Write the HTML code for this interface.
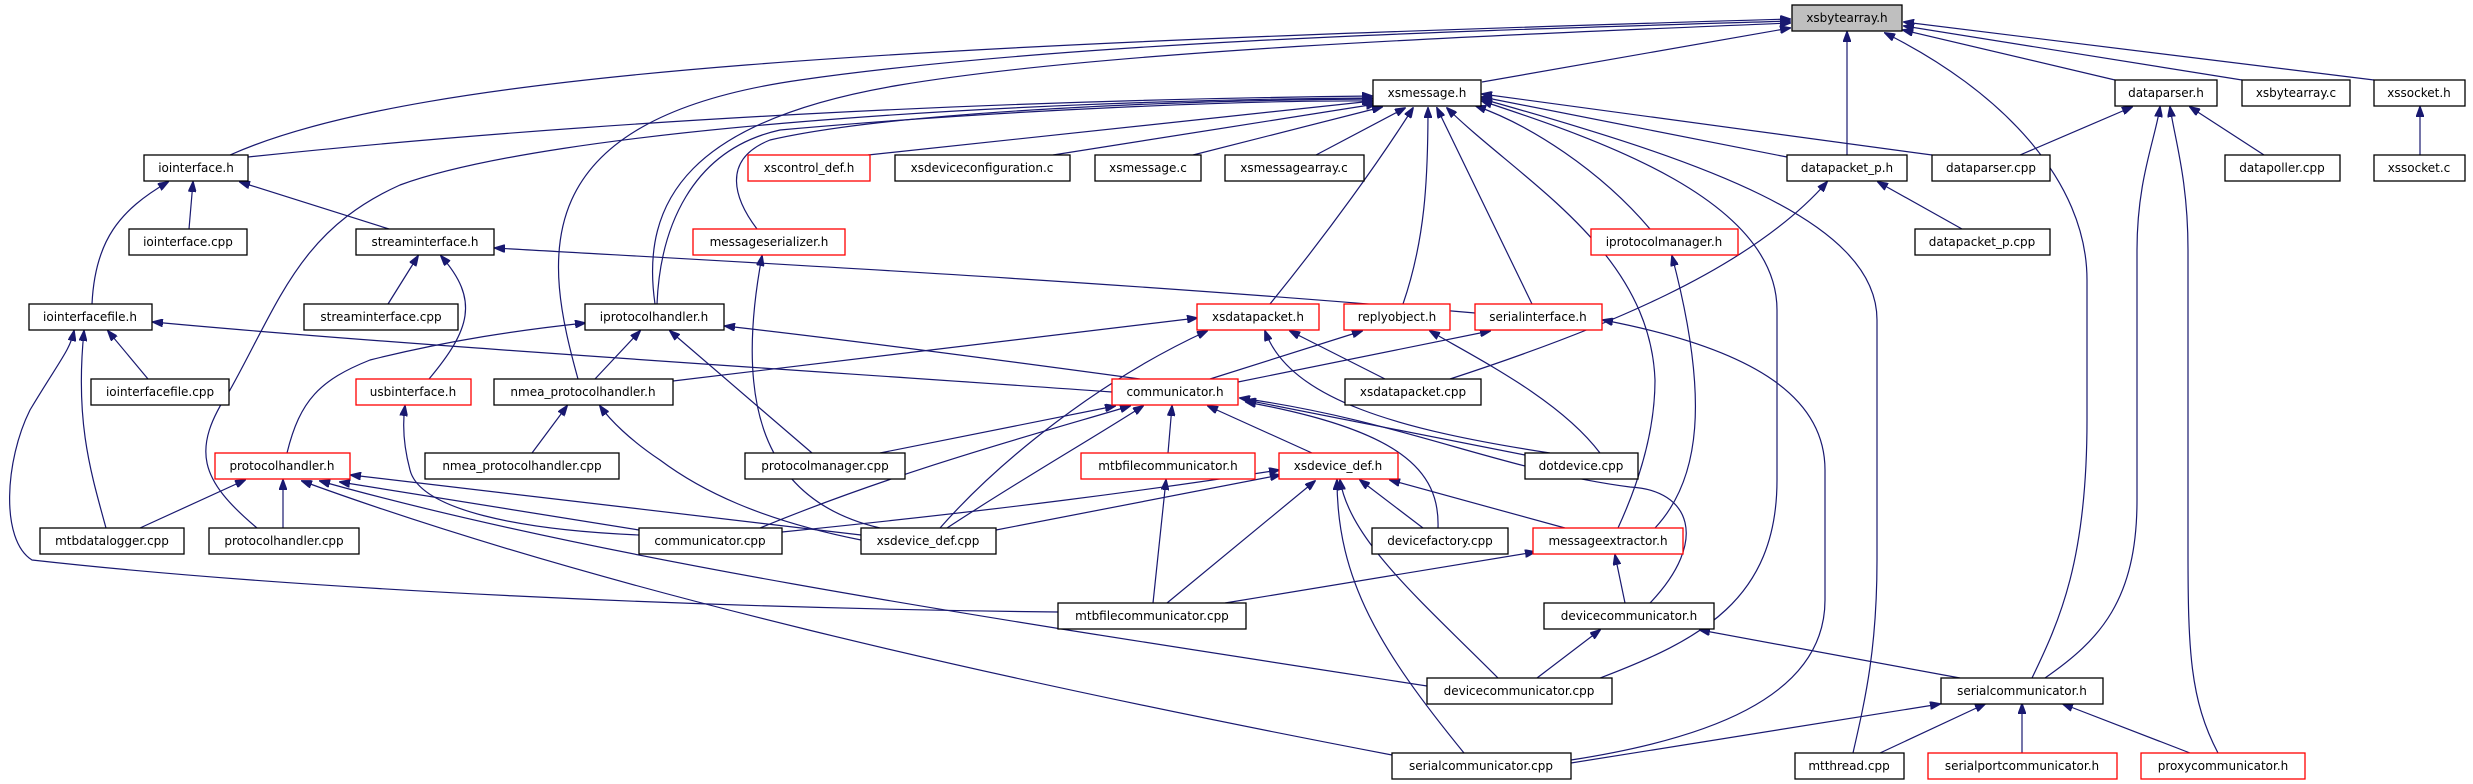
<!DOCTYPE html>
<html><head><meta charset="utf-8">
<style>
html,body{margin:0;padding:0;background:#fff;}
svg{display:block;}
text{font-family:"DejaVu Sans","Liberation Sans",sans-serif;font-size:12px;fill:#000;}
.e{fill:none;stroke:#191970;stroke-width:1.2;marker-end:url(#ah);}
.n{fill:#fff;stroke:#000;stroke-width:1.3;}
.r{fill:#fff;stroke:#ff0000;stroke-width:1.3;}
</style></head>
<body>
<svg width="2473" height="784" viewBox="0 0 2473 784" xmlns="http://www.w3.org/2000/svg">
<defs>
<marker id="ah" markerWidth="11" markerHeight="8" refX="10" refY="4" orient="auto" markerUnits="userSpaceOnUse">
<path d="M0,0 L11,4 L0,8 z" fill="#191970" stroke="#191970"/>
</marker>
</defs>
<!-- edges to xsbytearray.h -->
<path class="e" d="M1482,82 L1790,28"/>
<path class="e" d="M230,155 C420,70 900,45 1790,19"/>
<path class="e" d="M578,379 C545,260 520,120 800,80 S1500,30 1790,21"/>
<path class="e" d="M655,304 C640,200 690,120 900,85 S1500,35 1790,23"/>
<path class="e" d="M1847,155 L1847,32"/>
<path class="e" d="M2115,80 L1903,30"/>
<path class="e" d="M2242,80 L1904,26"/>
<path class="e" d="M2374,80 L1904,22"/>
<path class="e" d="M2032,678 C2060,620 2087,560 2087,420 L2087,280 C2087,180 2000,90 1885,33"/>
<!-- xsmessage.h -->
<path class="e" d="M248,157 C600,120 1000,100 1372,96"/>
<path class="e" d="M257,528 C200,480 190,450 230,390 C280,300 300,230 400,185 C550,130 1000,100 1372,98"/>
<path class="e" d="M757,229 C735,200 720,160 770,140 C900,110 1200,100 1372,99"/>
<path class="e" d="M657,304 C660,230 690,150 780,130 C1000,110 1250,100 1372,101"/>
<path class="e" d="M868,155 L1373,101"/>
<path class="e" d="M1053,155 L1376,104"/>
<path class="e" d="M1193,155 L1382,107"/>
<path class="e" d="M1316,155 L1405,108"/>
<path class="e" d="M1270,304 C1330,230 1380,160 1413,108"/>
<path class="e" d="M1403,304 C1425,240 1428,180 1428,108"/>
<path class="e" d="M1532,304 L1437,108"/>
<path class="e" d="M1618,528 C1640,480 1655,430 1655,380 C1650,250 1520,180 1447,108"/>
<path class="e" d="M1650,229 C1600,170 1530,125 1476,106"/>
<path class="e" d="M1600,678 C1700,640 1777,600 1777,480 L1777,310 C1777,200 1600,140 1482,101"/>
<path class="e" d="M1853,753 C1865,700 1877,650 1877,560 L1877,320 C1877,220 1700,160 1482,99"/>
<path class="e" d="M1787,157 L1482,97"/>
<path class="e" d="M1932,155 L1482,94"/>
<!-- iointerface.h -->
<path class="e" d="M189,229 L193,182"/>
<path class="e" d="M389,229 L240,182"/>
<path class="e" d="M92,304 C95,240 120,210 168,182"/>
<!-- streaminterface.h -->
<path class="e" d="M388,304 L418,256"/>
<path class="e" d="M429,379 C470,330 480,300 441,256"/>
<path class="e" d="M1475,313 C1100,280 700,260 495,248"/>
<!-- iointerfacefile.h -->
<path class="e" d="M148,379 L108,331"/>
<path class="e" d="M106,528 C90,470 75,420 84,331"/>
<path class="e" d="M1058,612 C700,608 300,590 32,560 C0,540 5,460 30,410 C60,360 70,350 74,331"/>
<path class="e" d="M1112,392 C800,370 400,345 153,322"/>
<!-- iprotocolhandler.h -->
<path class="e" d="M287,453 C300,400 320,380 370,360 C450,340 520,330 585,323"/>
<path class="e" d="M595,379 L640,331"/>
<path class="e" d="M812,453 L670,331"/>
<path class="e" d="M1140,379 C1000,360 850,340 725,326"/>
<!-- messageserializer.h -->
<path class="e" d="M880,528 C760,500 735,400 762,256"/>
<!-- xsdatapacket.h -->
<path class="e" d="M673,381 L1197,318"/>
<path class="e" d="M940,528 C1000,460 1100,380 1207,331"/>
<path class="e" d="M1385,379 L1290,331"/>
<path class="e" d="M1550,453 C1400,430 1290,400 1265,331"/>
<!-- replyobject.h -->
<path class="e" d="M1210,379 L1362,331"/>
<path class="e" d="M1600,453 C1560,400 1480,360 1430,331"/>
<!-- serialinterface.h -->
<path class="e" d="M1238,382 L1490,331"/>
<path class="e" d="M1571,760 C1700,740 1825,700 1825,600 L1825,470 C1825,400 1760,350 1603,320"/>
<!-- datapacket_p.h -->
<path class="e" d="M1962,229 L1878,182"/>
<path class="e" d="M1450,379 C1600,330 1750,270 1827,182"/>
<!-- dataparser.h -->
<path class="e" d="M2020,155 L2132,107"/>
<path class="e" d="M2264,155 L2190,107"/>
<path class="e" d="M2045,678 C2100,640 2137,600 2137,500 L2137,250 C2137,180 2155,140 2160,107"/>
<path class="e" d="M2218,753 C2190,700 2188,650 2188,550 L2188,250 C2188,180 2175,140 2170,107"/>
<!-- xssocket.h -->
<path class="e" d="M2420,155 L2420,107"/>
<!-- usbinterface.h -->
<path class="e" d="M639,535 C520,530 420,510 410,470 C402,440 403,420 405,406"/>
<!-- nmea_protocolhandler.h -->
<path class="e" d="M532,453 L567,406"/>
<path class="e" d="M861,540 C760,520 700,490 660,460 C630,440 610,420 600,406"/>
<!-- communicator.h -->
<path class="e" d="M880,453 L1115,406"/>
<path class="e" d="M760,528 C900,470 1050,430 1130,406"/>
<path class="e" d="M947,528 C1020,480 1090,440 1143,406"/>
<path class="e" d="M1168,453 L1172,406"/>
<path class="e" d="M1312,453 L1208,406"/>
<path class="e" d="M1438,528 C1440,470 1400,430 1246,402"/>
<path class="e" d="M1525,455 L1246,400"/>
<path class="e" d="M1650,603 C1710,540 1690,490 1630,487 C1500,470 1400,420 1240,398"/>
<!-- protocolhandler.h -->
<path class="e" d="M140,528 L245,480"/>
<path class="e" d="M283,528 L283,480"/>
<path class="e" d="M639,530 L340,482"/>
<path class="e" d="M861,535 L351,475"/>
<path class="e" d="M1427,686 C1000,620 600,560 320,481"/>
<path class="e" d="M1392,755 C1000,680 600,590 302,481"/>
<!-- mtbfilecommunicator.h -->
<path class="e" d="M1153,603 L1166,480"/>
<!-- xsdevice_def.h -->
<path class="e" d="M782,532 C1000,510 1150,490 1279,470"/>
<path class="e" d="M996,530 L1280,475"/>
<path class="e" d="M1167,603 L1315,481"/>
<path class="e" d="M1423,528 L1360,480"/>
<path class="e" d="M1565,528 L1390,480"/>
<path class="e" d="M1498,678 C1420,600 1350,540 1340,480"/>
<path class="e" d="M1464,753 C1380,650 1337,580 1337,480"/>
<!-- messageextractor.h -->
<path class="e" d="M1225,603 L1535,552"/>
<path class="e" d="M1625,603 L1615,555"/>
<path class="e" d="M1655,528 C1700,480 1710,400 1672,256"/>
<!-- devicecommunicator.h -->
<path class="e" d="M1537,678 L1600,630"/>
<path class="e" d="M1960,678 L1700,630"/>
<!-- serialcommunicator.h -->
<path class="e" d="M1571,763 L1940,704"/>
<path class="e" d="M1880,753 L1985,704"/>
<path class="e" d="M2022,753 L2022,704"/>
<path class="e" d="M2190,753 L2063,704"/>

<!-- nodes -->
<g text-anchor="middle">
<rect x="1792" y="5" width="110" height="26" fill="#bfbfbf" stroke="#000" stroke-width="1.3"/><text x="1847" y="22">xsbytearray.h</text>
<rect class="n" x="1373" y="80" width="108" height="26"/><text x="1427" y="97">xsmessage.h</text>
<rect class="n" x="2115" y="80" width="102" height="26"/><text x="2166" y="97">dataparser.h</text>
<rect class="n" x="2242" y="80" width="108" height="26"/><text x="2296" y="97">xsbytearray.c</text>
<rect class="n" x="2374" y="80" width="91" height="26"/><text x="2419" y="97">xssocket.h</text>

<rect class="n" x="144" y="155" width="104" height="26"/><text x="196" y="172">iointerface.h</text>
<rect class="r" x="748" y="155" width="122" height="26"/><text x="809" y="172">xscontrol_def.h</text>
<rect class="n" x="895" y="155" width="175" height="26"/><text x="982" y="172">xsdeviceconfiguration.c</text>
<rect class="n" x="1095" y="155" width="106" height="26"/><text x="1148" y="172">xsmessage.c</text>
<rect class="n" x="1225" y="155" width="139" height="26"/><text x="1294" y="172">xsmessagearray.c</text>
<rect class="n" x="1787" y="155" width="120" height="26"/><text x="1847" y="172">datapacket_p.h</text>
<rect class="n" x="1932" y="155" width="118" height="26"/><text x="1991" y="172">dataparser.cpp</text>
<rect class="n" x="2225" y="155" width="115" height="26"/><text x="2282" y="172">datapoller.cpp</text>
<rect class="n" x="2374" y="155" width="91" height="26"/><text x="2419" y="172">xssocket.c</text>

<rect class="n" x="129" y="229" width="118" height="26"/><text x="188" y="246">iointerface.cpp</text>
<rect class="n" x="356" y="229" width="138" height="26"/><text x="425" y="246">streaminterface.h</text>
<rect class="r" x="693" y="229" width="152" height="26"/><text x="769" y="246">messageserializer.h</text>
<rect class="r" x="1591" y="229" width="147" height="26"/><text x="1664" y="246">iprotocolmanager.h</text>
<rect class="n" x="1915" y="229" width="135" height="26"/><text x="1982" y="246">datapacket_p.cpp</text>

<rect class="n" x="29" y="304" width="123" height="26"/><text x="90" y="321">iointerfacefile.h</text>
<rect class="n" x="304" y="304" width="154" height="26"/><text x="381" y="321">streaminterface.cpp</text>
<rect class="n" x="585" y="304" width="139" height="26"/><text x="654" y="321">iprotocolhandler.h</text>
<rect class="r" x="1197" y="304" width="122" height="26"/><text x="1258" y="321">xsdatapacket.h</text>
<rect class="r" x="1344" y="304" width="106" height="26"/><text x="1397" y="321">replyobject.h</text>
<rect class="r" x="1475" y="304" width="127" height="26"/><text x="1538" y="321">serialinterface.h</text>

<rect class="n" x="91" y="379" width="138" height="26"/><text x="160" y="396">iointerfacefile.cpp</text>
<rect class="r" x="356" y="379" width="115" height="26"/><text x="413" y="396">usbinterface.h</text>
<rect class="n" x="494" y="379" width="179" height="26"/><text x="583" y="396">nmea_protocolhandler.h</text>
<rect class="r" x="1112" y="379" width="126" height="26"/><text x="1175" y="396">communicator.h</text>
<rect class="n" x="1345" y="379" width="136" height="26"/><text x="1413" y="396">xsdatapacket.cpp</text>

<rect class="r" x="215" y="453" width="135" height="26"/><text x="282" y="470">protocolhandler.h</text>
<rect class="n" x="425" y="453" width="194" height="26"/><text x="522" y="470">nmea_protocolhandler.cpp</text>
<rect class="n" x="745" y="453" width="160" height="26"/><text x="825" y="470">protocolmanager.cpp</text>
<rect class="r" x="1081" y="453" width="174" height="26"/><text x="1168" y="470">mtbfilecommunicator.h</text>
<rect class="r" x="1279" y="453" width="119" height="26"/><text x="1338" y="470">xsdevice_def.h</text>
<rect class="n" x="1525" y="453" width="113" height="26"/><text x="1581" y="470">dotdevice.cpp</text>

<rect class="n" x="40" y="528" width="144" height="26"/><text x="112" y="545">mtbdatalogger.cpp</text>
<rect class="n" x="209" y="528" width="150" height="26"/><text x="284" y="545">protocolhandler.cpp</text>
<rect class="n" x="639" y="528" width="143" height="26"/><text x="710" y="545">communicator.cpp</text>
<rect class="n" x="861" y="528" width="135" height="26"/><text x="928" y="545">xsdevice_def.cpp</text>
<rect class="n" x="1372" y="528" width="136" height="26"/><text x="1440" y="545">devicefactory.cpp</text>
<rect class="r" x="1533" y="528" width="150" height="26"/><text x="1608" y="545">messageextractor.h</text>

<rect class="n" x="1058" y="603" width="188" height="26"/><text x="1152" y="620">mtbfilecommunicator.cpp</text>
<rect class="n" x="1544" y="603" width="170" height="26"/><text x="1629" y="620">devicecommunicator.h</text>

<rect class="n" x="1427" y="678" width="185" height="26"/><text x="1519" y="695">devicecommunicator.cpp</text>
<rect class="n" x="1941" y="678" width="162" height="26"/><text x="2022" y="695">serialcommunicator.h</text>

<rect class="n" x="1392" y="753" width="179" height="26"/><text x="1481" y="770">serialcommunicator.cpp</text>
<rect class="n" x="1795" y="753" width="109" height="26"/><text x="1849" y="770">mtthread.cpp</text>
<rect class="r" x="1928" y="753" width="189" height="26"/><text x="2022" y="770">serialportcommunicator.h</text>
<rect class="r" x="2141" y="753" width="164" height="26"/><text x="2223" y="770">proxycommunicator.h</text>
</g>
</svg>
</body></html>
